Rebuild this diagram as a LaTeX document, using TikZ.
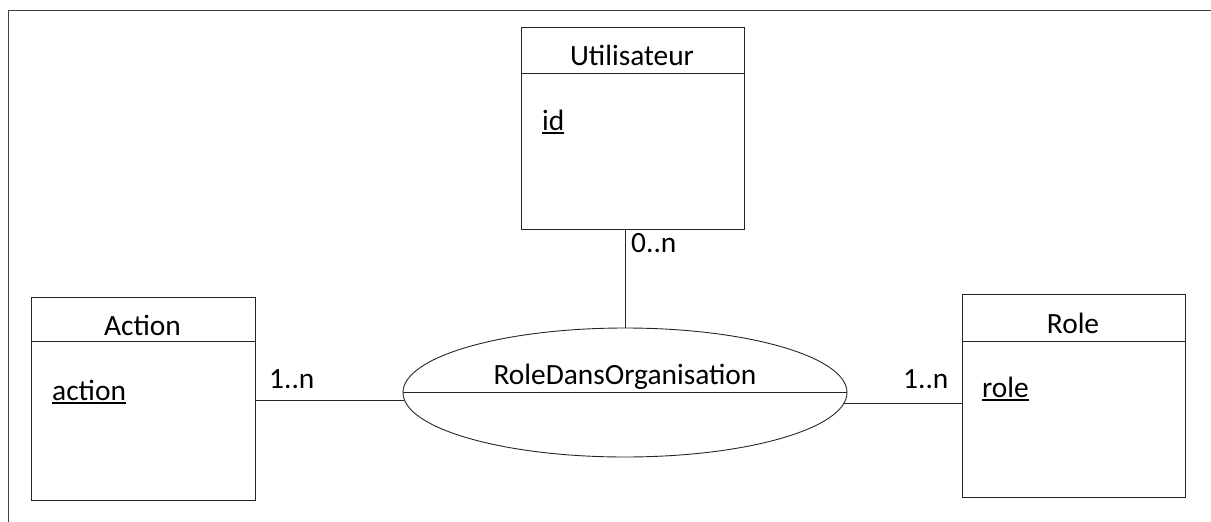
\documentclass[tikz,border=0pt]{standalone}
\usepackage{fontspec}
\setmainfont{Carlito}
\usetikzlibrary{shapes.geometric}
% key attribute: text with a heavier underline set a little below the baseline
\newcommand{\keyattr}[1]{\setbox0\hbox{#1}\rlap{\raisebox{-4pt}{\rule{\wd0}{1.6pt}}}\box0}
\begin{document}
\begin{tikzpicture}[x=1pt,y=-1pt,
  font=\fontsize{29.4}{34}\selectfont,
  entity/.style={draw=black!85,line width=1pt,rectangle,inner sep=0pt},
  assoc/.style={draw=black!85,line width=0.9pt,ellipse,inner sep=0pt,minimum width=444pt,minimum height=129pt},
  link/.style={draw=black!85,line width=1pt},
  txt/.style={inner sep=0pt,anchor=base west},
  title/.style={inner sep=0pt,anchor=base},
  frameline/.style={draw=black!75,line width=1.6pt}]
\useasboundingbox (0,0) rectangle (1211,522);

% outer frame (top and left edges)
\coordinate (fbl) at (8.5,522);
\coordinate (ftl) at (8.5,10.5);
\coordinate (ftr) at (1211,10.5);
\draw[frameline] (fbl) -- (ftl) -- (ftr);

% entities
\node[entity,minimum width=223pt,minimum height=202pt] (util) at (632.5,128) {};
\node[entity,minimum width=224pt,minimum height=203pt] (act) at (143,398.5) {};
\node[entity,minimum width=223pt,minimum height=203pt] (role) at (1073.5,395.5) {};

% header separators
\coordinate (uh) at (632.5,73);
\coordinate (ah) at (143,341);
\coordinate (rh) at (1073.5,341);
\draw[link] (util.west |- uh) -- (util.east |- uh);
\draw[link] (act.west |- ah) -- (act.east |- ah);
\draw[link] (role.west |- rh) -- (role.east |- rh);

% titles and keys
\node[title] (utitle) at (632,65) {Utilisateur};
\node[title] (atitle) at (142.5,335) {Action};
\node[title] (rtitle) at (1073,333) {Role};
\node[txt] (uid) at (542,130) {\keyattr{id}};
\node[txt] (aid) at (52,400) {\keyattr{action}};
\node[txt] (rid) at (982,397) {\keyattr{role}};

% association
\node[assoc] (rel) at (625,392.5) {};
\draw[link,line width=0.9pt] (rel.west) -- (rel.east);
\node[title] (rtxt) at (625,384) {RoleDansOrganisation};

% connectors
\draw[link] (util.south -| rel.north) -- (rel.north);
\draw[link] (act.east |- rel.182.7) -- (rel.182.7);
\draw[link] (rel.357.6) -- (role.west |- rel.357.6);

% cardinalities
\node[txt] (c0) at (631,252) {0..n};
\node[txt] (c1) at (269,388) {1..n};
\node[txt] (c2) at (903,388) {1..n};
\end{tikzpicture}
\end{document}
